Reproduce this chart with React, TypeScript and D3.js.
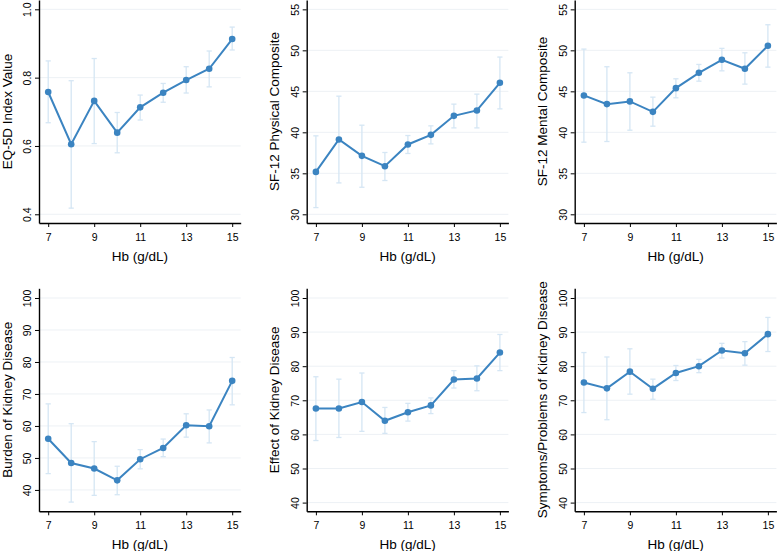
import { useEffect, useRef } from 'react';
import * as d3 from 'd3';

const hb = [7, 8, 9, 10, 11, 12, 13, 14, 15];
const hbTicks = [7, 9, 11, 13, 15];

const eq5dMean = [0.758, 0.605, 0.732, 0.639, 0.713, 0.756, 0.793, 0.826, 0.913];
const eq5dLow = [0.668, 0.418, 0.607, 0.580, 0.676, 0.728, 0.755, 0.773, 0.881];
const eq5dHigh = [0.849, 0.791, 0.856, 0.698, 0.749, 0.783, 0.832, 0.878, 0.948];

const pcsMean = [35.17, 39.13, 37.13, 35.87, 38.52, 39.69, 42.01, 42.67, 46.04];
const pcsLow = [30.82, 33.83, 33.30, 34.12, 37.42, 38.59, 40.54, 40.54, 42.86];
const pcsHigh = [39.57, 44.41, 40.87, 37.54, 39.61, 40.79, 43.44, 44.66, 49.18];

const mcsMean = [44.5, 43.44, 43.77, 42.5, 45.39, 47.26, 48.85, 47.75, 50.56];
const mcsLow = [38.8, 38.88, 40.26, 40.75, 44.21, 46.24, 47.5, 45.88, 47.95];
const mcsHigh = [50.15, 48.0, 47.26, 44.29, 46.53, 48.28, 50.24, 49.7, 53.12];

const burdenMean = [56.0, 48.4, 46.7, 43.0, 49.6, 53.1, 60.2, 59.9, 74.1];
const burdenLow = [45.1, 36.2, 38.3, 38.5, 46.6, 50.4, 56.5, 54.7, 66.6];
const burdenHigh = [66.9, 60.7, 55.1, 47.4, 52.6, 55.9, 63.8, 65.0, 81.4];

const effectMean = [67.6, 67.6, 69.5, 64.0, 66.5, 68.5, 76.1, 76.4, 84.0];
const effectLow = [58.2, 59.1, 60.9, 60.3, 63.9, 66.1, 73.6, 72.8, 78.7];
const effectHigh = [76.9, 76.2, 78.0, 67.9, 69.1, 70.7, 78.7, 80.1, 89.3];

const symptomMean = [75.2, 73.5, 78.4, 73.4, 78.0, 80.0, 84.6, 83.8, 89.4];
const symptomLow = [66.4, 64.3, 71.8, 70.3, 75.8, 78.1, 82.4, 80.3, 84.3];
const symptomHigh = [84.0, 82.7, 85.1, 76.2, 80.2, 82.0, 86.7, 87.2, 94.3];

const titles = [
  'EQ-5D Index Value',
  'SF-12 Physical Composite',
  'SF-12 Mental Composite',
  'Burden of Kidney Disease',
  'Effect of Kidney Disease',
  'Symptoms/Problems of Kidney Disease',
];

const panels = [
  { mean: eq5dMean, low: eq5dLow, high: eq5dHigh, domain: [0.3745, 1.0273], ticks: [0.4, 0.6, 0.8, 1.0], fmt: '.1f' },
  { mean: pcsMean, low: pcsLow, high: pcsHigh, domain: [28.94, 56.14], ticks: [30, 35, 40, 45, 50, 55], fmt: 'd' },
  { mean: mcsMean, low: mcsLow, high: mcsHigh, domain: [28.94, 56.14], ticks: [30, 35, 40, 45, 50, 55], fmt: 'd' },
  { mean: burdenMean, low: burdenLow, high: burdenHigh, domain: [33.32, 103.03], ticks: [40, 50, 60, 70, 80, 90, 100], fmt: 'd' },
  { mean: effectMean, low: effectLow, high: effectHigh, domain: [37.45, 102.84], ticks: [40, 50, 60, 70, 80, 90, 100], fmt: 'd' },
  { mean: symptomMean, low: symptomLow, high: symptomHigh, domain: [37.45, 102.84], ticks: [40, 50, 60, 70, 80, 90, 100], fmt: 'd' },
];

export default function App() {
  const svgRef = useRef<SVGSVGElement>(null);

  useEffect(() => {
    if (!svgRef.current) return;
    const svg = d3.select(svgRef.current);
    svg.selectAll('*').remove();

    const colLeft = [39, 306.7, 574.7];
    const rowTop = [0, 288.3];
    const plotW = 201.7;
    const plotH = 223;
    const lineColor = '#3b84c1';
    const ciColor = '#d5e6f4';
    const font = 'Liberation Sans, Arial, Helvetica, sans-serif';

    panels.forEach((p, i) => {
      const left = colLeft[i % 3];
      const top = rowTop[Math.floor(i / 3)];
      const bottom = top + plotH;

      const x = d3.scaleLinear().domain([6.6, 15.37]).range([left, left + plotW]);
      const y = d3.scaleLinear().domain(p.domain).range([bottom, top]);
      const g = svg.append('g');

      // grid
      g.selectAll('.grid')
        .data(p.ticks)
        .enter()
        .append('line')
        .attr('x1', left + 1)
        .attr('x2', left + plotW)
        .attr('y1', d => y(d))
        .attr('y2', d => y(d))
        .attr('stroke', '#edf1f5')
        .attr('stroke-width', 1);

      // error bars
      const rows = hb.map((h, k) => ({ h, m: p.mean[k], lo: p.low[k], hi: p.high[k] }));
      const eb = g.selectAll('.eb').data(rows).enter().append('g');
      eb.append('line')
        .attr('x1', d => x(d.h)).attr('x2', d => x(d.h))
        .attr('y1', d => y(d.lo)).attr('y2', d => y(d.hi))
        .attr('stroke', ciColor).attr('stroke-width', 1.3);
      eb.append('line')
        .attr('x1', d => x(d.h) - 2.6).attr('x2', d => x(d.h) + 2.6)
        .attr('y1', d => y(d.lo)).attr('y2', d => y(d.lo))
        .attr('stroke', ciColor).attr('stroke-width', 1.3);
      eb.append('line')
        .attr('x1', d => x(d.h) - 2.6).attr('x2', d => x(d.h) + 2.6)
        .attr('y1', d => y(d.hi)).attr('y2', d => y(d.hi))
        .attr('stroke', ciColor).attr('stroke-width', 1.3);

      // line + markers
      const line = d3.line<{ h: number; m: number }>().x(d => x(d.h)).y(d => y(d.m));
      g.append('path')
        .datum(rows)
        .attr('d', line)
        .attr('fill', 'none')
        .attr('stroke', lineColor)
        .attr('stroke-width', 2);
      g.selectAll('.pt')
        .data(rows)
        .enter()
        .append('circle')
        .attr('cx', d => x(d.h))
        .attr('cy', d => y(d.m))
        .attr('r', 3.3)
        .attr('fill', lineColor);

      // axes
      const yAxis = g.append('g')
        .attr('transform', `translate(${left},0)`)
        .call(d3.axisLeft(y).tickValues(p.ticks).tickSize(4).tickFormat(d3.format(p.fmt)).tickSizeOuter(0));
      yAxis.select('.domain').attr('stroke', '#000').attr('stroke-width', 1.4);
      yAxis.selectAll('.tick line').attr('stroke', '#000');
      yAxis.selectAll('.tick text')
        .attr('x', 0).attr('dy', null)
        .attr('transform', 'translate(-12,0) rotate(-90)')
        .attr('text-anchor', 'middle')
        .attr('dominant-baseline', 'central')
        .style('font-family', font)
        .style('font-size', '10.5px')
        .attr('fill', '#000');

      const xAxis = g.append('g')
        .attr('transform', `translate(0,${bottom})`)
        .call(d3.axisBottom(x).tickValues(hbTicks).tickSize(4).tickFormat(d3.format('d')).tickSizeOuter(0));
      xAxis.select('.domain').attr('stroke', '#000').attr('stroke-width', 1.4);
      xAxis.selectAll('.tick line').attr('stroke', '#000');
      xAxis.selectAll('.tick text')
        .attr('y', 14).attr('dy', null)
        .attr('dominant-baseline', 'central')
        .style('font-family', font)
        .style('font-size', '10.5px')
        .attr('fill', '#000');

      g.append('text')
        .attr('x', left + plotW / 2)
        .attr('y', bottom + 33.5)
        .attr('text-anchor', 'middle')
        .attr('dominant-baseline', 'central')
        .style('font-family', font)
        .style('font-size', '13.5px')
        .text('Hb (g/dL)');

      g.append('text')
        .attr('transform', `translate(${left - 32},${top + plotH / 2}) rotate(-90)`)
        .attr('text-anchor', 'middle')
        .attr('dominant-baseline', 'central')
        .style('font-family', font)
        .style('font-size', '13.5px')
        .text(titles[i]);
    });
  }, []);

  return (
    <svg
      ref={svgRef}
      width={777}
      height={551}
      style={{ position: 'fixed', left: 0, top: 0, background: '#fff' }}
    />
  );
}
